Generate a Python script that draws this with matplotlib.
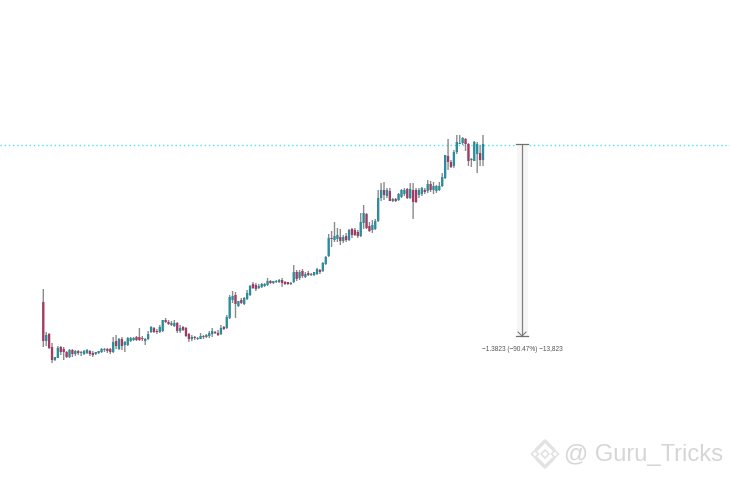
import numpy as np
import matplotlib
matplotlib.use("Agg")
import matplotlib.pyplot as plt
from matplotlib.patches import Polygon, Rectangle

high = [289, 332, 333, 343, 357, 346, 346, 347, 351, 349,
        349, 350, 350, 351, 350, 349, 350, 351, 352, 351,
        348, 348, 348, 348, 337, 335, 338, 337, 341, 337,
        337, 337, 336, 328, 336, 338, 331, 326, 327, 329,
        325, 320, 318, 320, 321, 320, 322, 325, 326, 327,
        333, 335, 336, 337, 333, 335, 334, 331, 328, 331,
        330, 325, 326, 315, 295, 291, 292, 301, 298, 297,
        290, 285, 282, 283, 284, 283, 283, 278, 280, 281,
        280, 279, 278, 281, 282, 282, 265, 270, 270, 269,
        272, 271, 273, 272, 268, 269, 262, 256, 234, 231,
        222, 228, 229, 235, 233, 229, 228, 228, 230, 213,
        205, 213, 222, 220, 219, 190, 183, 182, 188, 188,
        198, 198, 193, 189, 188, 188, 183, 183, 188, 188,
        187, 188, 180, 181, 182, 185, 182, 173, 155, 139,
        160, 150, 135, 135, 137, 138, 143, 158, 141, 142,
        145, 135]
body_top = [302, 335, 334, 347, 357, 348, 347, 349, 352, 350,
            350, 351, 351, 352, 351, 350, 351, 353, 352, 351,
            349, 349, 349, 349, 342, 341, 339, 339, 342, 338,
            338, 338, 337, 337, 338, 339, 334, 327, 328, 331,
            327, 320, 320, 322, 323, 323, 323, 328, 327, 328,
            334, 337, 337, 338, 336, 336, 335, 333, 331, 332,
            333, 328, 327, 317, 297, 296, 295, 301, 300, 298,
            293, 286, 284, 285, 286, 284, 284, 281, 281, 281,
            281, 280, 280, 282, 282, 283, 272, 272, 272, 271,
            274, 273, 274, 272, 269, 270, 263, 257, 238, 238,
            236, 235, 237, 237, 236, 230, 229, 230, 232, 222,
            213, 214, 226, 225, 221, 198, 190, 190, 190, 191,
            199, 199, 194, 190, 190, 189, 189, 190, 190, 190,
            188, 190, 184, 184, 186, 186, 186, 177, 155, 156,
            162, 152, 142, 143, 138, 139, 144, 159, 142, 144,
            153, 144]
body_bottom = [341, 341, 348, 360, 360, 358, 352, 352, 357, 357,
               354, 354, 353, 353, 354, 353, 354, 355, 354, 353,
               352, 350, 351, 352, 352, 346, 349, 346, 345, 345,
               341, 340, 340, 340, 339, 341, 339, 332, 332, 332,
               332, 331, 322, 324, 325, 326, 331, 331, 330, 336,
               339, 339, 338, 339, 339, 337, 337, 336, 334, 333,
               335, 334, 329, 328, 318, 300, 304, 306, 303, 304,
               299, 295, 288, 289, 288, 287, 286, 285, 283, 283,
               282, 282, 283, 284, 284, 284, 282, 279, 278, 276,
               277, 275, 275, 275, 274, 272, 271, 264, 256, 239,
               240, 239, 241, 241, 240, 240, 235, 235, 236, 236,
               223, 228, 231, 230, 229, 221, 198, 195, 196, 201,
               201, 201, 200, 197, 194, 198, 198, 202, 202, 195,
               194, 192, 191, 190, 190, 191, 190, 186, 178, 162,
               167, 166, 152, 144, 143, 144, 161, 160, 161, 154,
               160, 160]
low = [347, 346, 349, 363, 361, 358, 355, 360, 358, 358,
       357, 356, 355, 356, 355, 354, 356, 357, 355, 354,
       353, 352, 353, 354, 353, 349, 350, 350, 352, 346,
       342, 341, 341, 341, 341, 345, 340, 333, 333, 334,
       333, 332, 323, 325, 326, 327, 333, 333, 331, 337,
       342, 341, 340, 340, 339, 339, 338, 338, 337, 334,
       336, 335, 330, 329, 319, 303, 318, 307, 304, 305,
       300, 296, 289, 291, 289, 288, 287, 286, 284, 284,
       283, 283, 287, 285, 285, 285, 283, 281, 280, 278,
       278, 276, 276, 276, 275, 274, 272, 265, 257, 247,
       242, 242, 245, 243, 242, 241, 238, 236, 238, 237,
       229, 229, 232, 233, 230, 222, 201, 200, 198, 201,
       202, 202, 201, 198, 196, 199, 199, 219, 203, 198,
       196, 194, 193, 192, 194, 193, 191, 187, 179, 170,
       168, 168, 154, 144, 145, 151, 166, 167, 161, 173,
       166, 166]
is_up = [0, 1, 0, 0, 1, 1, 0, 0, 0, 1,
         0, 1, 0, 1, 1, 1, 0, 0, 1, 1,
         1, 1, 0, 0, 1, 0, 1, 0, 1, 1,
         1, 1, 0, 0, 0, 1, 1, 1, 0, 0,
         1, 1, 0, 0, 1, 1, 0, 1, 0, 0,
         0, 1, 0, 1, 1, 0, 1, 1, 1, 0,
         0, 1, 0, 1, 1, 1, 0, 1, 0, 1,
         1, 1, 0, 0, 1, 1, 1, 1, 0, 1,
         1, 1, 0, 0, 0, 1, 1, 0, 1, 0,
         1, 0, 1, 1, 1, 0, 1, 1, 1, 0,
         1, 1, 0, 1, 0, 1, 0, 0, 0, 1,
         1, 0, 0, 1, 1, 1, 1, 0, 1, 0,
         1, 0, 1, 1, 1, 0, 1, 0, 0, 1,
         1, 0, 1, 0, 1, 1, 1, 1, 1, 0,
         0, 1, 1, 1, 1, 0, 0, 1, 1, 1,
         0, 1]

top_level = 144.5
bottom_level = 336
measure_label = "\u22121.3823 (\u221290.47%) \u221213,823"
watermark = "@ Guru_Tricks"

teal = "#2a8d9c"
red = "#a33a62"
wick = "#8a8a8a"

fig = plt.figure(figsize=(7.30, 4.79), dpi=100)
ax = fig.add_axes([0, 0, 1, 1])
step = 2.912
first_px = 43.3
ax.set_xlim(-first_px / step, (730 - first_px) / step)
ax.set_ylim(479, 0)
ax.axis("off")

x = np.arange(len(high))
bt = np.array(body_top)
bb = np.array(body_bottom)
colors = [teal if u else red for u in is_up]

wicks = ax.vlines(x, high, low, color=wick, lw=1.0, zorder=2)
wicks.set_snap(False)
bars = ax.bar(x, bb - bt, bottom=bt, width=0.8, color=colors, lw=0, zorder=3)
for b in bars:
    b.set_snap(False)

ax.axhline(top_level, color="#45e4f0", lw=1.0, ls=(0, (1, 2)), zorder=1)

# measure tool, drawn on a pixel overlay
px = fig.add_axes([0, 0, 1, 1])
px.set_xlim(0, 730)
px.set_ylim(479, 0)
px.axis("off")
px.patch.set_alpha(0)

px.add_patch(Rectangle((516.5, top_level), 11, bottom_level - top_level,
                       fc="#f6f6f6", ec="none", zorder=1))
px.plot([522, 522], [top_level, bottom_level], color="#808080", lw=0.9, zorder=2)
px.plot([516, 528], [143.5, 143.5], color="#707070", lw=0.9, zorder=2)
px.plot([516, 528], [336, 336], color="#707070", lw=0.9, zorder=2)
px.plot([518, 522, 526], [332, 336, 332], color="#707070", lw=0.7, zorder=2)
px.text(522, 349.5, measure_label, ha="center", va="center", fontsize=4.7,
        color="#555555", family="Liberation Sans")

# watermark logo
cx, cy = 545, 454
logo = "#e2e2e2"
def diamond(dx, dy, r):
    return Polygon([(cx + dx, cy + dy - r), (cx + dx + r, cy + dy),
                    (cx + dx, cy + dy + r), (cx + dx - r, cy + dy)],
                   fc="white", ec=logo, lw=1.2, zorder=3)
px.add_patch(diamond(0, 0, 4))
px.add_patch(diamond(-10, 0, 3.5))
px.add_patch(diamond(10, 0, 3.5))
px.plot([cx - 8, cx, cx + 8], [cy - 5, cy - 13, cy - 5], color=logo, lw=2.4, zorder=3)
px.plot([cx - 8, cx, cx + 8], [cy + 5, cy + 13, cy + 5], color=logo, lw=2.4, zorder=3)

px.text(564, 454.5, watermark, ha="left", va="center", fontsize=17.1,
        color="#d6d6d6", family="Liberation Sans")

fig.savefig("out.png", dpi=100)
